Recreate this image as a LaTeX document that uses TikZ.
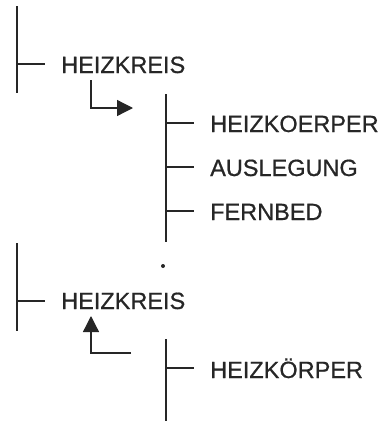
\documentclass[tikz,border=0pt]{standalone}
\usepackage{fontspec}
\setmainfont[FakeBold=0.7]{Liberation Sans}
\usetikzlibrary{arrows.meta}
\definecolor{ink}{HTML}{262626}
\tikzset{
  trunk/.style={draw=ink, line width=1.7pt},
  branch/.style={draw=ink, line width=1.2pt},
  label/.style={anchor=base west, inner sep=0pt, text=ink, font=\fontsize{23.5}{26}\selectfont},
  flow/.style={draw=ink, line width=1.3pt, -{Triangle[length=16pt, width=16pt]}}
}
\begin{document}
\begin{tikzpicture}[x=1pt, y=-1pt]
\useasboundingbox (0,0) rectangle (385,421);

% upper parent level
\coordinate (t1a) at (17,6);
\coordinate (t1b) at (17,93);
\coordinate (b1) at (17,64);
\coordinate (b1e) at (45,64);
\draw[trunk] (t1a) -- (t1b);
\draw[branch] (b1) -- (b1e);
\node[label] (hk1) at (61,73) {HEIZKREIS};

% step down into the sub-level
\coordinate (a1s) at (91,80);
\coordinate (a1c) at (91,108);
\coordinate (a1e) at (133,108);
\draw[flow] (a1s) -- (a1c) -- (a1e);

% upper child level
\coordinate (t2a) at (166,94);
\coordinate (t2b) at (166,242);
\draw[trunk] (t2a) -- (t2b);
\foreach \yy/\nm/\txt in {123/c1/HEIZKOERPER, 167/c2/AUSLEGUNG, 211/c3/FERNBED}{
  \coordinate (\nm s) at (166,\yy);
  \coordinate (\nm e) at (194,\yy);
  \draw[branch] (\nm s) -- (\nm e);
  \node[label] (\nm) at (210,\yy+9) {\txt};
}

% continuation dot
\fill[ink] (163,266) circle (2pt);

% lower parent level
\coordinate (t3a) at (17,243);
\coordinate (t3b) at (17,331);
\coordinate (b3) at (17,301);
\coordinate (b3e) at (45,301);
\draw[trunk] (t3a) -- (t3b);
\draw[branch] (b3) -- (b3e);
\node[label] (hk2) at (61,309) {HEIZKREIS};

% step back up to the parent level
\coordinate (a2s) at (131,353);
\coordinate (a2c) at (91,353);
\coordinate (a2e) at (91,316);
\draw[flow] (a2s) -- (a2c) -- (a2e);

% lower child level
\coordinate (t4a) at (166,339);
\coordinate (t4b) at (166,421);
\coordinate (b4) at (166,368);
\coordinate (b4e) at (194,368);
\draw[trunk] (t4a) -- (t4b);
\draw[branch] (b4) -- (b4e);
\node[label] (hkp) at (210,378) {HEIZKÖRPER};
\end{tikzpicture}
\end{document}
